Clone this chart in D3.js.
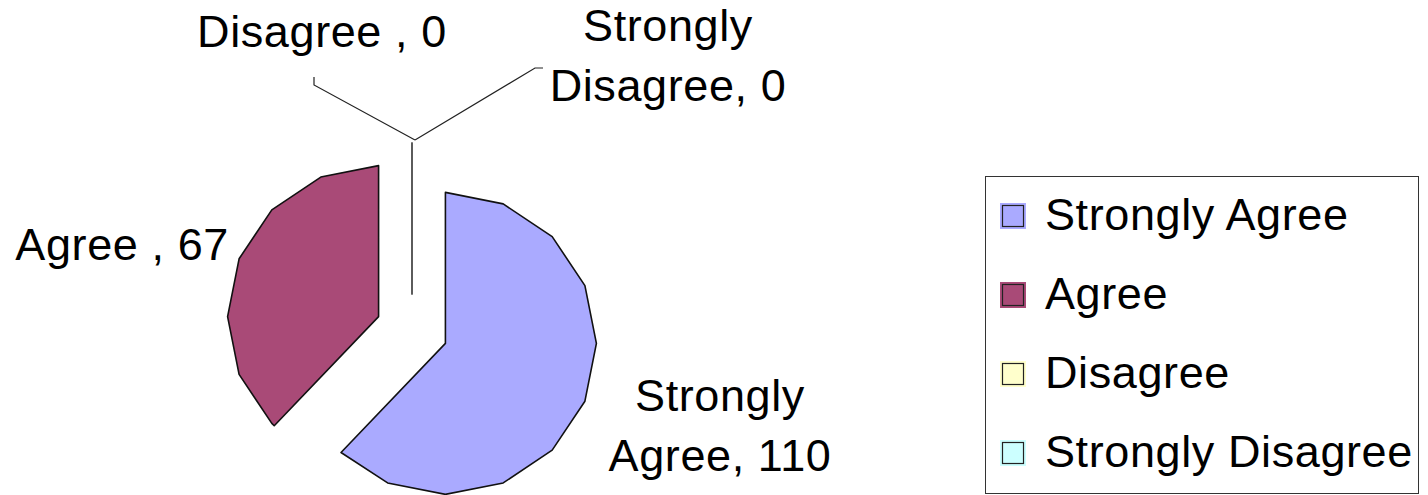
<!DOCTYPE html>
<html>
<head>
<meta charset="utf-8">
<script src="https://cdn.jsdelivr.net/npm/d3@7"></script>
<style>
  body { margin: 0; background: #fff; }
  text { font-family: "Liberation Sans", Arial, sans-serif; fill: #000; }
</style>
</head>
<body>
<div id="chart"></div>
<script>
// data
var categories = ["Strongly Agree", "Agree ", "Disagree ", "Strongly Disagree"];
var values = [110, 67, 0, 0];
var colors = ["#aaaaff", "#a94a77", "#ffffcc", "#ccffff"];

var width = 1428, height = 495;
var cx = 412, cy = 330, radius = 151, explode = 36;
var fontSize = 45;

var svg = d3.select("#chart")
  .append("svg")
    .attr("width", width)
    .attr("height", height);

var data = categories.map(function (c, i) {
  return {name: c, value: values[i], color: colors[i]};
});

var pie = d3.pie()
  .sort(null)
  .value(function (d) { return d.value; });

var arcs = pie(data);

// excel-ish polygon arc: a vertex every 22.5 degrees
function slicePoints(d) {
  var step = Math.PI / 8;
  var pts = [[0, 0]];
  var angs = [d.startAngle];
  var a = Math.ceil(d.startAngle / step + 1e-6) * step;
  while (a < d.endAngle - 1e-6) { angs.push(a); a += step; }
  angs.push(d.endAngle);
  angs.forEach(function (t) {
    pts.push([radius * Math.sin(t), -radius * Math.cos(t)]);
  });
  return pts;
}

function offset(d) {
  var mid = (d.startAngle + d.endAngle) / 2;
  return [cx + explode * Math.sin(mid), cy - explode * Math.cos(mid)];
}

var line = d3.line().curve(d3.curveLinearClosed);

svg.selectAll("path.slice")
  .data(arcs)
  .enter()
  .append("path")
    .attr("class", "slice")
    .attr("transform", function (d) { var o = offset(d); return "translate(" + o[0] + "," + o[1] + ")"; })
    .attr("d", function (d) { return line(slicePoints(d)); })
    .attr("fill", function (d) { return d.data.color; })
    .attr("stroke", function (d) { return d.value === 0 ? "#555" : "#111"; })
    .attr("stroke-width", 1.6)
    .attr("stroke-linejoin", "round");

// labels
var labelPos = {
  "Strongly Agree": {x: 720, y: 411, anchor: "middle"},
  "Agree ": {x: 229, y: 260, anchor: "end"},
  "Disagree ": {x: 322, y: 47, anchor: "middle", leader: [[-101, -55], [-101, -63]]},
  "Strongly Disagree": {x: 668, y: 41, anchor: "middle", leader: [[120, -72], [128, -72]]}
};
var lineGap = 60;

arcs.forEach(function (d) {
  var p = labelPos[d.data.name];
  var words = d.data.name.trim().split(" ");
  var lines = words.length > 1
    ? [words[0], words.slice(1).join(" ") + ", " + d.value]
    : [d.data.name + ", " + d.value];
  var t = svg.append("text")
    .attr("x", p.x)
    .attr("y", p.y)
    .attr("text-anchor", p.anchor)
    .style("font-size", fontSize + "px")
    .style("letter-spacing", "0.6px");
  lines.forEach(function (s, i) {
    t.append("tspan")
      .attr("x", p.x)
      .attr("dy", i === 0 ? 0 : lineGap)
      .text(s);
  });
  if (p.leader) {
    var o = offset(d);
    var tip = [o[0] + radius * Math.sin(d.startAngle) + 3, o[1] - radius * Math.cos(d.startAngle) - 3];
    var pts = [tip].concat(p.leader.map(function (q) { return [tip[0] + q[0], tip[1] + q[1]]; }));
    svg.append("path")
      .attr("d", d3.line()(pts))
      .attr("fill", "none")
      .attr("stroke", "#222")
      .attr("stroke-width", 1.2);
  }
});

// legend
var legend = svg.append("g").attr("transform", "translate(985,176)");
legend.append("rect")
  .attr("x", 0.5).attr("y", 0.5)
  .attr("width", 433).attr("height", 317)
  .attr("fill", "#fff")
  .attr("stroke", "#333")
  .attr("stroke-width", 1);

var items = legend.selectAll("g.item")
  .data(data)
  .enter()
  .append("g")
    .attr("class", "item")
    .attr("transform", function (d, i) { return "translate(0," + (i * 79) + ")"; });

items.append("rect")
  .attr("x", 15).attr("y", 27)
  .attr("width", 26).attr("height", 26)
  .attr("fill", function (d) { return d.color; });
items.append("rect")
  .attr("x", 17.5).attr("y", 29.5)
  .attr("width", 21).attr("height", 21)
  .attr("fill", "none")
  .attr("stroke", "#222")
  .attr("stroke-width", 1.2);

items.append("text")
  .attr("x", 60)
  .attr("y", 54)
  .style("font-size", fontSize + "px")
  .style("letter-spacing", "0.6px")
  .text(function (d) { return d.name.trim(); });
</script>
</body>
</html>
